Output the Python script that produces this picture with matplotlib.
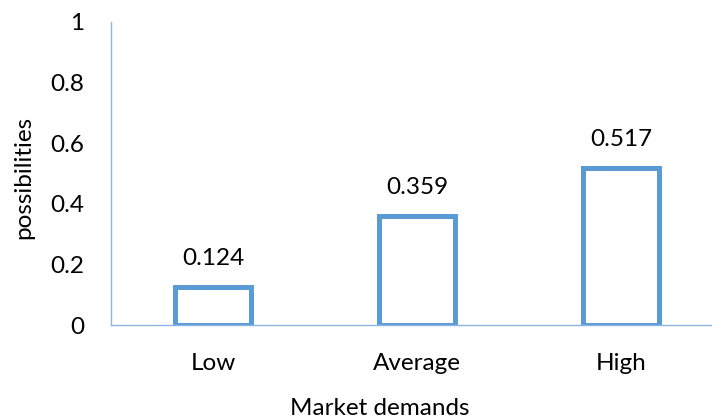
import numpy as np
import matplotlib
matplotlib.use('Agg')
import matplotlib.pyplot as plt

categories = ['Low', 'Average', 'High']
values = [0.124, 0.359, 0.517]
yticks = [0, 0.2, 0.4, 0.6, 0.8, 1]
ytick_labels = ['0', '0.2', '0.4', '0.6', '0.8', '1']

plt.rcParams['font.family'] = ['Lato', 'DejaVu Sans']
fs = 17.5

fig = plt.figure(figsize=(7.12, 4.18), dpi=100)
ax = fig.add_axes([111/712, 93/418, 612/712, 303/418])

x = np.arange(len(categories))
ax.bar(x, values, width=0.373, facecolor='white', edgecolor='#5B9BD5', linewidth=3.6)

for xi, v in zip(x, values):
    ax.annotate(f'{v:.3f}', (xi, v), xytext=(0, 13), textcoords='offset points',
                ha='center', va='bottom', fontsize=fs, color='black')

ax.set_xlim(-0.5, len(categories) - 0.5)
ax.set_ylim(0, 1)
ax.set_yticks(yticks)
ax.set_yticklabels(ytick_labels)
ax.set_xticks(x)
ax.set_xticklabels(categories)
ax.tick_params(axis='both', length=0, labelsize=fs)
ax.tick_params(axis='y', pad=19)
ax.tick_params(axis='x', pad=20)

for s in ['top', 'right']:
    ax.spines[s].set_visible(False)
for s in ['left', 'bottom']:
    ax.spines[s].set_color('#8DB4E2')
    ax.spines[s].set_linewidth(1.0)

fig.text(380/712, 3/418, 'Market demands', fontsize=fs, ha='center', va='baseline')
fig.text(24/712, (418-177)/418, 'possibilities', fontsize=fs, rotation=90,
         ha='center', va='center')

fig.savefig('out.png', dpi=100)
